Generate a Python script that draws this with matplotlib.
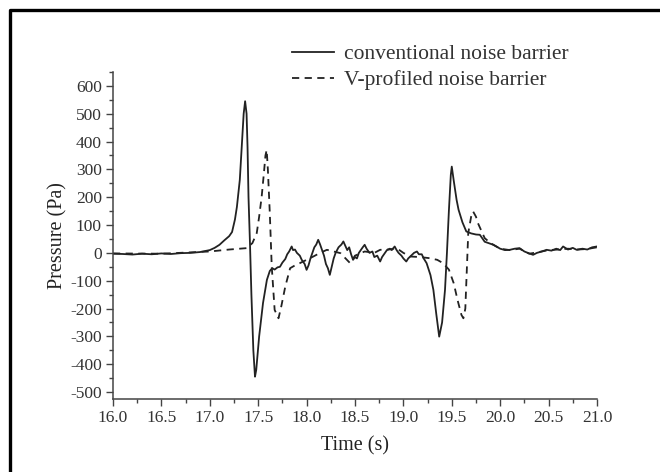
import matplotlib.pyplot as plt
from matplotlib.lines import Line2D
from matplotlib.ticker import MultipleLocator

# conventional noise barrier (time in s, pressure in Pa)
t_conv = [16.0, 16.1, 16.2, 16.3, 16.4, 16.5, 16.6, 16.7, 16.8, 16.9, 17.0,
          17.05, 17.1, 17.15, 17.2, 17.23, 17.26, 17.28, 17.31, 17.33, 17.35,
          17.365, 17.38, 17.39, 17.40, 17.415, 17.43, 17.45, 17.467, 17.48,
          17.51, 17.55, 17.59, 17.62, 17.645, 17.67, 17.70, 17.725, 17.75,
          17.78, 17.80, 17.82, 17.846, 17.86, 17.88, 17.9, 17.93, 17.95, 17.98,
          18.0, 18.02, 18.04, 18.06, 18.08, 18.1, 18.12, 18.14, 18.16, 18.18,
          18.2, 18.22, 18.24, 18.26, 18.28, 18.3, 18.33, 18.36, 18.38, 18.40,
          18.42, 18.44, 18.46, 18.48, 18.5, 18.52, 18.54, 18.56, 18.58, 18.6,
          18.62, 18.65, 18.68, 18.7, 18.73, 18.76, 18.78, 18.8, 18.83, 18.86,
          18.88, 18.91, 18.93, 18.95, 18.98, 19.0, 19.03, 19.05, 19.08, 19.11,
          19.14, 19.16, 19.19, 19.21, 19.24, 19.28, 19.31, 19.34, 19.37, 19.40,
          19.43, 19.45, 19.47, 19.49, 19.50, 19.52, 19.55, 19.57, 19.61, 19.65,
          19.7, 19.75, 19.79, 19.84, 19.88, 19.93, 20.0, 20.05, 20.1, 20.15,
          20.2, 20.25, 20.3, 20.34, 20.38, 20.43, 20.48, 20.53, 20.58, 20.62,
          20.65, 20.7, 20.75, 20.79, 20.85, 20.9, 20.95, 21.0]
p_conv = [-3, -4, -6, -3, -5, -2, -4, -1, 0, 3, 10,
          18, 29, 45, 60, 75, 120, 165, 262, 380, 500,
          545, 500, 380, 200, 36, -150, -350, -445, -420,
          -300, -180, -97, -65, -55, -60, -52, -50, -35,
          -22, -5, 5, 23, 10, 12, 0, -10, -25, -40,
          -61, -45, -20, 0, 20, 30, 47, 30, 10, -10,
          -40, -55, -79, -50, -20, 0, 20, 30, 41, 25,
          10, 20, -5, -25, -15, -20, 0, 10, 20, 29,
          15, 0, 5, -15, -10, -31, -15, -5, 10, 15,
          10, 23, 10, 0, -10, -20, -31, -20, -10, 0,
          5, -5, -5, -20, -37, -80, -133, -220, -301, -250,
          -133, 0, 150, 280, 310, 260, 190, 155, 110, 77,
          70, 66, 65, 40, 35, 29, 15, 10, 11, 15,
          17, 5, -2, -7, 0, 5, 11, 8, 15, 10,
          23, 12, 18, 11, 15, 12, 20, 23]

# V-profiled noise barrier
t_v = [16.0, 16.5, 17.0, 17.2, 17.38, 17.44, 17.485, 17.51, 17.536, 17.56,
       17.575, 17.588, 17.60, 17.62, 17.64, 17.67, 17.71, 17.74, 17.78, 17.83,
       17.88, 17.93, 18.0, 18.07, 18.14, 18.21, 18.28, 18.35, 18.45, 18.5,
       18.6, 18.7, 18.76, 18.85, 18.93, 19.0, 19.07, 19.17, 19.27, 19.35,
       19.41, 19.47, 19.52, 19.56, 19.60, 19.62, 19.64, 19.65, 19.66, 19.67,
       19.70, 19.72, 19.75, 19.77, 19.84, 19.9, 20.0, 20.1, 20.2, 20.3,
       20.4, 20.5, 20.6, 20.7, 20.8, 20.9, 21.0]
p_v = [-2, -3, 5, 12, 17, 35, 71, 130, 202, 290,
       350, 370, 300, 143, -49, -205, -235, -190, -121, -55,
       -45, -37, -25, -13, 0, 11, 5, -1, -37, -10,
       5, 0, 11, 12, 17, 0, -13, -15, -19, -25,
       -37, -60, -109, -170, -223, -235, -200, -109, -20, 71,
       130, 149, 130, 107, 53, 35, 15, 10, 15, -3,
       3, 10, 12, 15, 12, 14, 20]

plt.rcParams['font.family'] = ['Liberation Serif', 'DejaVu Serif']

fig = plt.figure(figsize=(6.6, 4.72), dpi=100)
ax = fig.add_axes([0.1712, 0.1547, 0.7333, 0.6928])

ax.plot(t_conv, p_conv, color='#222222', lw=1.3, label='conventional noise barrier')
ax.plot(t_v, p_v, color='#222222', lw=1.3, ls=(0, (4, 3)), label='V-profiled noise barrier')

ax.set_xlim(16.0, 21.0)
ax.set_ylim(-525, 650)
ax.xaxis.set_major_locator(MultipleLocator(0.5))
ax.xaxis.set_minor_locator(MultipleLocator(0.25))
ax.yaxis.set_minor_locator(MultipleLocator(50))
ax.set_yticks(range(-500, 601, 100))
ax.set_yticklabels([str(v) for v in range(-500, 601, 100)])

for s in ['top', 'right']:
    ax.spines[s].set_visible(False)
for s in ['left', 'bottom']:
    ax.spines[s].set_color('#444444')
    ax.spines[s].set_linewidth(1.1)

ax.tick_params(which='major', direction='out', length=5, width=1.0,
               color='#444444', labelsize=12.5, labelcolor='#333333', pad=3)
ax.tick_params(which='minor', direction='out', length=3, width=1.0, color='#444444')

ax.set_xlabel('Time (s)', fontsize=14.5, color='#222222', labelpad=7)
ax.set_ylabel('Pressure (Pa)', fontsize=14.5, color='#222222', labelpad=2)

ax.legend(loc='upper left', bbox_to_anchor=(292 / 660, 1 - 44 / 472),
          bbox_transform=fig.transFigure, frameon=False, fontsize=15.5,
          handlelength=1.95, handletextpad=0.45, labelspacing=0.28,
          borderpad=0, borderaxespad=0, labelcolor='#333333')

# cropped page frame (top and left edges only)
fig.add_artist(Line2D([10 / 660, 10 / 660, 1.0], [0.0, 1 - 10 / 472, 1 - 10 / 472],
                      transform=fig.transFigure, color='black', lw=2.4))

fig.savefig('out.png', dpi=100)
